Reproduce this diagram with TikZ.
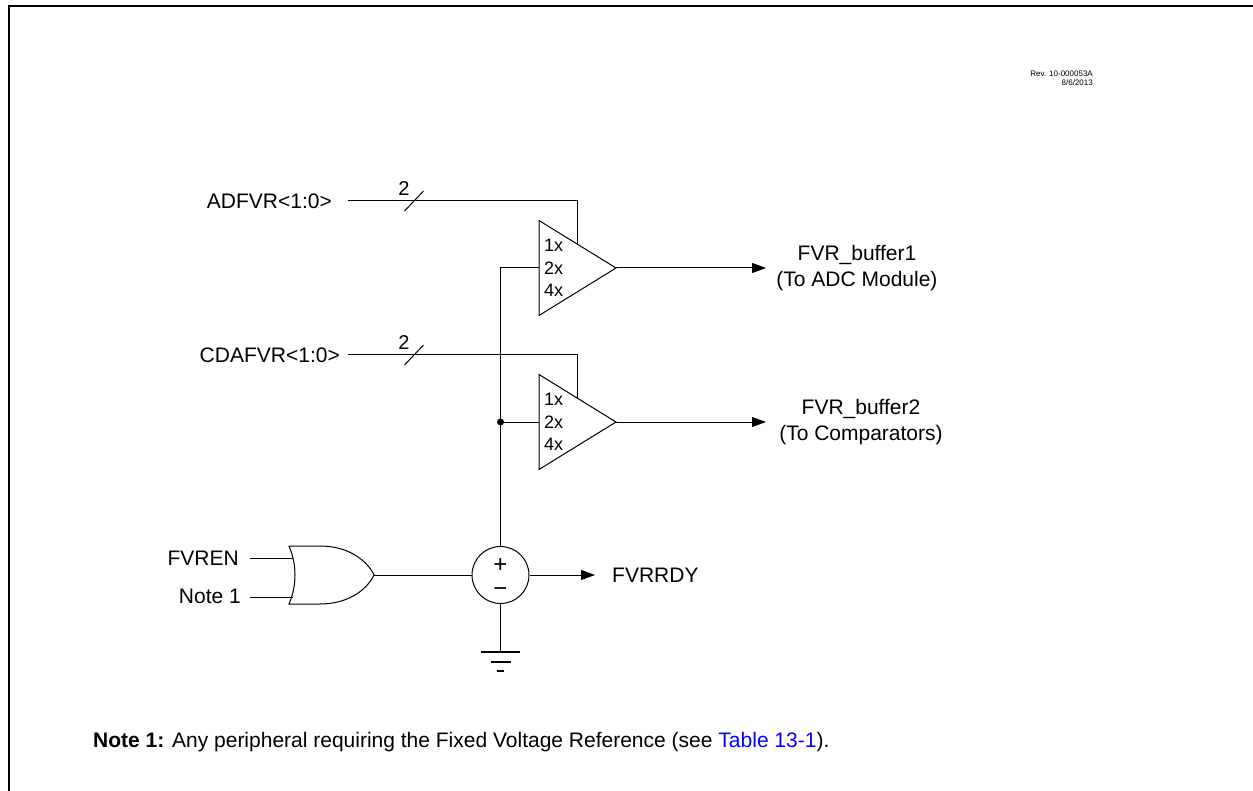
\documentclass[tikz,border=0pt]{standalone}
\usepackage{fontspec}
\setmainfont{Liberation Sans}
\usetikzlibrary{arrows.meta}
\begin{document}
\begin{tikzpicture}[x=1pt,y=-1pt,
  wire/.style={line width=1pt},
  txt/.style={font=\fontsize{21}{26}\selectfont, inner sep=0pt},
  gain/.style={font=\fontsize{18}{20}\selectfont, inner sep=0pt, anchor=west},
  buswidth/.style={font=\fontsize{20}{22}\selectfont, inner sep=0pt},
  small/.style={font=\fontsize{8}{9}\selectfont, inner sep=0pt, anchor=east},
  sign/.style={font=\fontsize{24}{24}\selectfont, inner sep=0pt, align=center},
  arr/.style={wire,-{Triangle[length=14pt,width=10pt]}},
  amp/.style={wire, line join=miter}]
\useasboundingbox (0,0) rectangle (1253,791);
\draw[line width=2pt] (9,791) -- (9,6) -- (1253,6);

% revision
\node[small] (rev) at (1093,74) {Rev. 10-000053A};
\node[small] (date) at (1093,83) {8/6/2013};

% amplifier 1
\coordinate (a1t) at (539,220.5);
\coordinate (a1b) at (539,315.5);
\coordinate (a1o) at (616,268);
\coordinate (a1i) at (539,268);
\coordinate (a1s) at (577,243.9);
\draw[amp] (a1t) -- (a1o) -- (a1b) -- cycle;
\node[gain] (g11) at (544,245.5) {1x};
\node[gain] (g12) at (544,268) {2x};
\node[gain] (g14) at (544,290) {4x};

% amplifier 2
\coordinate (a2t) at (539,374.5);
\coordinate (a2b) at (539,469.5);
\coordinate (a2o) at (616,422);
\coordinate (a2i) at (539,422);
\coordinate (a2s) at (577,397.9);
\draw[amp] (a2t) -- (a2o) -- (a2b) -- cycle;
\node[gain] (g21) at (544,399.5) {1x};
\node[gain] (g22) at (544,422) {2x};
\node[gain] (g24) at (544,444) {4x};

% select inputs
\node[txt, anchor=east] (adfvr) at (332,201) {ADFVR<1:0>};
\coordinate (adl) at (348,201);
\draw[wire] (adl) -- (577,201) -- (a1s);
\draw[wire] (404.5,211) -- (423.5,191);
\node[buswidth] (w1) at (404,189) {2};

\node[txt, anchor=east] (cdafvr) at (340,355) {CDAFVR<1:0>};
\coordinate (cdl) at (348,355);
\draw[wire] (cdl) -- (577,355) -- (a2s);
\draw[wire] (404.5,365) -- (423.5,345);
\node[buswidth] (w2) at (404,343) {2};

% outputs
\node[txt, align=center] (out1) at (857,268) {FVR\_buffer1\\(To ADC Module)};
\node[txt, align=center] (out2) at (861,422) {FVR\_buffer2\\(To Comparators)};
\coordinate (o1) at (766,268);
\coordinate (o2) at (766,422);
\draw[arr] (a1o) -- (o1);
\draw[arr] (a2o) -- (o2);

% reference source
\node[circle, draw, line width=1pt, minimum size=57pt, inner sep=0pt] (sum) at (500.5,575) {};
\node[sign] (pm) at (500.5,578) {+\\−};
\coordinate (dot) at (500.5,422);
\draw[wire] (sum.north) -- (dot) -- (500.5,268) -- (a1i);
\draw[wire] (dot) -- (a2i);
\fill (dot) circle (3.5pt);

% FVRRDY
\coordinate (rdy) at (595,575);
\draw[arr] (sum.east) -- (rdy);
\node[txt, anchor=west] (fvrrdy) at (612,575) {FVRRDY};

% OR gate
\coordinate (or1) at (293,558);
\coordinate (or2) at (293,597);
\coordinate (orout) at (374,575);
\draw[wire] (289,546) -- (320,546) .. controls (350,546) and (368,562) .. (orout)
  .. controls (368,588) and (350,604) .. (320,604) -- (289,604)
  .. controls (297,585) and (297,565) .. (289,546) -- cycle;
\node[txt, anchor=east] (fvren) at (239,558) {FVREN};
\node[txt, anchor=east] (note1) at (241,596) {Note 1};
\draw[wire] (250,558) -- (or1);
\draw[wire] (250,597) -- (or2);
\draw[wire] (orout) -- (sum.west);

% ground
\coordinate (gnd) at (500.5,652);
\draw[wire] (sum.south) -- (gnd);
\draw[line width=1.3pt] (481,652) -- (520,652);
\draw[line width=1.3pt] (491,662) -- (511,662);
\draw[line width=1.3pt] (497,671) -- (504,671);

% note
\node[txt, anchor=west] (note) at (93,742) {\textbf{Note 1:} Any peripheral requiring the Fixed Voltage Reference (see \textcolor{blue}{Table 13-1}).};
\end{tikzpicture}
\end{document}
